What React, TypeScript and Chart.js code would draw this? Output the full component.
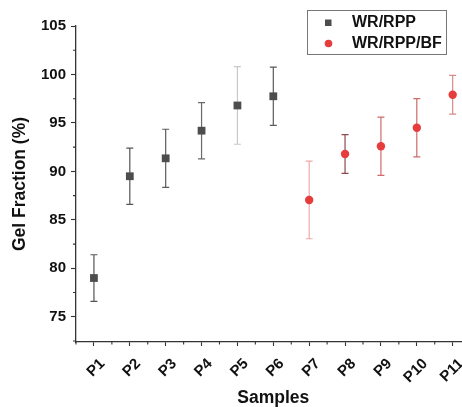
import React, { useEffect, useRef } from 'react';
import { Chart, registerables } from 'chart.js';

Chart.register(...registerables);

// ---- data ----
const categories = ['P1', 'P2', 'P3', 'P4', 'P5', 'P6', 'P7', 'P8', 'P9', 'P10', 'P11'];
const wrRppSamples = ['P1', 'P2', 'P3', 'P4', 'P5', 'P6'];
const wrRppValues = [79.0, 89.5, 91.35, 94.2, 96.8, 97.75];
const wrRppErrors = [2.4, 2.9, 3.0, 2.9, 4.0, 3.0];
const wrRppBfSamples = ['P7', 'P8', 'P9', 'P10', 'P11'];
const wrRppBfValues = [87.05, 91.8, 92.6, 94.5, 97.9];
const wrRppBfErrors = [4.0, 2.0, 3.0, 3.0, 2.0];
const yMajorTicks = [75, 80, 85, 90, 95, 100, 105];
const yMinorTicks = [72.5, 77.5, 82.5, 87.5, 92.5, 97.5, 102.5];
const seriesNames = ['WR/RPP', 'WR/RPP/BF'];
const xTitle = 'Samples';
const yTitle = 'Gel Fraction (%)';

// ---- styles ----
const FONT = '"Liberation Sans", Arial, sans-serif';
const GRAY = '#4d4d4d';
const RED = '#e63c3c';
const errColors = [
  ['#555555', '#555555', '#5c5c5c', '#6a6a6a', '#c8c8c8', '#5a5a5a'],
  ['#eeaaaa', '#8e4a4a', '#d46a6a', '#cc6a6a', '#d88a8a'],
];
const errData = [wrRppErrors, wrRppBfErrors];

const xOf = (s: string) => categories.indexOf(s) + 1;

const errorBarPlugin = {
  id: 'errorBars',
  beforeDatasetsDraw(chart: any) {
    const { ctx, scales } = chart;
    const xs = scales.x;
    const ys = scales.y;
    chart.data.datasets.forEach((ds: any, di: number) => {
      ds.data.forEach((p: any, j: number) => {
        const e = errData[di][j];
        const x = xs.getPixelForValue(p.x);
        const yt = ys.getPixelForValue(p.y + e);
        const yb = ys.getPixelForValue(p.y - e);
        ctx.save();
        ctx.strokeStyle = errColors[di][j];
        ctx.lineWidth = 1.2;
        ctx.beginPath();
        ctx.moveTo(x, yt);
        ctx.lineTo(x, yb);
        ctx.moveTo(x - 3.5, yt);
        ctx.lineTo(x + 3.5, yt);
        ctx.moveTo(x - 3.5, yb);
        ctx.lineTo(x + 3.5, yb);
        ctx.stroke();
        ctx.restore();
      });
    });
  },
};

const minorTickPlugin = {
  id: 'minorTicks',
  afterDraw(chart: any) {
    const { ctx, scales, chartArea } = chart;
    ctx.save();
    ctx.strokeStyle = '#333';
    ctx.lineWidth = 1.1;
    ctx.beginPath();
    yMinorTicks.forEach((v) => {
      const y = scales.y.getPixelForValue(v);
      ctx.moveTo(chartArea.left, y);
      ctx.lineTo(chartArea.left - 3, y);
    });
    for (let i = 0; i <= categories.length; i++) {
      const x = scales.x.getPixelForValue(i + 0.5);
      ctx.moveTo(x, chartArea.bottom);
      ctx.lineTo(x, chartArea.bottom + 2.5);
    }
    ctx.stroke();
    // x-axis title centred on the full (cropped) category span
    const cx = (scales.x.getPixelForValue(0.5) + scales.x.getPixelForValue(categories.length + 0.5)) / 2;
    ctx.fillStyle = '#111';
    ctx.font = `bold 17.5px ${FONT}`;
    ctx.textAlign = 'center';
    ctx.textBaseline = 'middle';
    ctx.fillText(xTitle, cx, 398);
    ctx.restore();
  },
};

const legendPlugin = {
  id: 'boxLegend',
  afterDraw(chart: any) {
    const { ctx } = chart;
    ctx.save();
    ctx.strokeStyle = '#777';
    ctx.lineWidth = 1;
    ctx.strokeRect(307.5, 10.5, 139, 44);
    ctx.fillStyle = GRAY;
    ctx.fillRect(325, 19.5, 6.5, 6.5);
    ctx.fillStyle = RED;
    ctx.beginPath();
    ctx.arc(328.5, 43.5, 3.8, 0, Math.PI * 2);
    ctx.fill();
    ctx.fillStyle = '#111';
    ctx.font = `bold 16px ${FONT}`;
    ctx.textBaseline = 'middle';
    ctx.textAlign = 'left';
    ctx.fillText(seriesNames[0], 352, 23);
    ctx.fillText(seriesNames[1], 352, 44);
    ctx.restore();
  },
};

export default function App() {
  const ref = useRef<HTMLCanvasElement | null>(null);

  useEffect(() => {
    document.body.style.margin = '0';
    const canvas = ref.current;
    if (!canvas) return;
    const chart = new Chart(canvas, {
      type: 'scatter',
      data: {
        datasets: [
          {
            label: seriesNames[0],
            data: wrRppSamples.map((s, i) => ({ x: xOf(s), y: wrRppValues[i] })),
            pointStyle: 'rect',
            pointRadius: 5.5,
            backgroundColor: GRAY,
            borderColor: GRAY,
            borderWidth: 0,
          },
          {
            label: seriesNames[1],
            data: wrRppBfSamples.map((s, i) => ({ x: xOf(s), y: wrRppBfValues[i] })),
            pointStyle: 'circle',
            pointRadius: 4.2,
            backgroundColor: RED,
            borderColor: RED,
            borderWidth: 0,
          },
        ],
      },
      options: {
        responsive: false,
        animation: false,
        devicePixelRatio: 1,
        layout: { padding: { top: 26, left: 0, right: 0, bottom: 0 }, autoPadding: false } as any,
        plugins: {
          legend: { display: false },
          tooltip: { enabled: false },
        },
        scales: {
          x: {
            type: 'linear',
            min: 0.5,
            max: 11.26,
            afterBuildTicks: (scale: any) => {
              scale.ticks = categories.map((_, i) => ({ value: i + 1 }));
            },
            afterFit: (scale: any) => {
              scale.height = 65;
              scale.paddingLeft = 0;
              scale.paddingRight = 0;
            },
            grid: { drawOnChartArea: false, drawTicks: true, tickLength: 4, tickColor: '#333', tickWidth: 1.1 },
            border: { display: true, color: '#333', width: 1.3 },
            ticks: {
              autoSkip: false,
              minRotation: 45,
              maxRotation: 45,
              padding: 9,
              labelOffset: 8.5,
              color: '#111',
              font: { family: FONT, size: 15, weight: 'bold' },
              callback: (v: any) => categories[Math.round(Number(v)) - 1] ?? '',
            },
            title: { display: false },
          },
          y: {
            type: 'linear',
            min: 72.4,
            max: 105,
            afterBuildTicks: (scale: any) => {
              scale.ticks = yMajorTicks.map((v) => ({ value: v }));
            },
            afterFit: (scale: any) => {
              scale.width = 76;
              scale.paddingTop = 0;
              scale.paddingBottom = 0;
            },
            grid: { drawOnChartArea: false, drawTicks: true, tickLength: 5, tickColor: '#333', tickWidth: 1.1 },
            border: { display: true, color: '#333', width: 1.3 },
            ticks: {
              padding: 5,
              color: '#111',
              font: { family: FONT, size: 15, weight: 'bold' },
              callback: (v: any) => String(v),
            },
            title: {
              display: true,
              text: yTitle,
              color: '#111',
              font: { family: FONT, size: 17.5, weight: 'bold' },
              padding: { top: 10, bottom: 0 },
            },
          },
        },
      } as any,
      plugins: [errorBarPlugin, minorTickPlugin, legendPlugin],
    });
    return () => chart.destroy();
  }, []);

  return (
    <div style={{ width: 462, height: 407, background: '#fff' }}>
      <canvas ref={ref} width={462} height={407} style={{ display: 'block' }} />
    </div>
  );
}
